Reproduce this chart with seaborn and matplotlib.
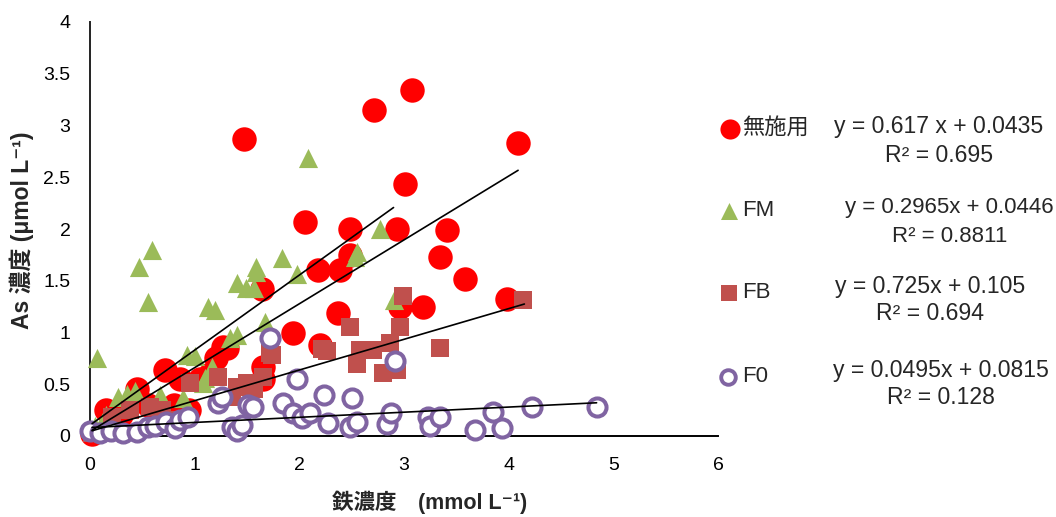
import numpy as np
import pandas as pd
import matplotlib
matplotlib.use("Agg")
import matplotlib.pyplot as plt
import seaborn as sns

# --- measured iron (x, mmol/L) and arsenic (y, umol/L) concentrations ---
none_x = [0.02, 0.15, 0.30, 0.45, 0.55, 0.72, 0.80, 0.86, 0.95, 1.05, 1.15, 1.20,
          1.27, 1.31, 1.47, 1.64, 1.65, 1.65, 1.94, 2.05, 2.18, 2.20, 2.37, 2.39,
          2.48, 2.48, 2.71, 2.93, 2.96, 3.01, 3.08, 3.18, 3.34, 3.41, 3.58, 3.98, 4.09]
none_y = [0.02, 0.25, 0.20, 0.45, 0.30, 0.64, 0.30, 0.55, 0.25, 0.55, 0.60, 0.75,
          0.86, 0.85, 2.87, 1.42, 0.67, 0.55, 1.00, 2.07, 1.60, 0.88, 1.19, 1.60,
          1.75, 2.00, 3.15, 2.00, 1.25, 2.43, 3.34, 1.25, 1.73, 1.99, 1.52, 1.32, 2.83]

fm_x = [0.05, 0.07, 0.15, 0.27, 0.35, 0.43, 0.47, 0.55, 0.59, 0.67, 0.89, 0.93,
        1.00, 1.08, 1.10, 1.13, 1.17, 1.19, 1.34, 1.40, 1.40, 1.49, 1.57, 1.59,
        1.59, 1.67, 1.83, 1.98, 2.08, 2.53, 2.55, 2.77, 2.90]
fm_y = [0.10, 0.75, 0.20, 0.38, 0.41, 0.43, 1.63, 1.29, 1.80, 0.40, 0.37, 0.78,
        0.77, 0.51, 0.56, 1.25, 0.67, 1.22, 0.95, 0.98, 1.48, 1.43, 1.43, 1.63,
        1.58, 1.10, 1.72, 1.57, 2.69, 1.73, 1.78, 2.00, 1.31]

fb_x = [0.02, 0.21, 0.38, 0.57, 0.69, 0.76, 0.96, 1.22, 1.36, 1.40, 1.50, 1.57,
        1.65, 1.72, 1.74, 2.22, 2.26, 2.48, 2.55, 2.58, 2.70, 2.80, 2.87, 2.93,
        2.96, 2.99, 3.34, 4.14]
fb_y = [0.03, 0.18, 0.25, 0.28, 0.25, 0.15, 0.51, 0.57, 0.38, 0.47, 0.51, 0.45,
        0.57, 0.80, 0.78, 0.84, 0.82, 1.05, 0.70, 0.83, 0.83, 0.61, 0.90, 0.64,
        1.05, 1.35, 0.85, 1.31]

f0_x = [0.00, 0.10, 0.20, 0.32, 0.45, 0.55, 0.62, 0.73, 0.81, 0.86, 0.94, 1.22,
        1.26, 1.36, 1.40, 1.45, 1.51, 1.56, 1.72, 1.84, 1.94, 1.98, 2.03, 2.10,
        2.24, 2.27, 2.50, 2.48, 2.55, 2.84, 2.88, 2.91, 3.23, 3.25, 3.34, 3.68,
        3.85, 3.94, 4.22, 4.84]
f0_y = [0.05, 0.03, 0.05, 0.03, 0.04, 0.09, 0.10, 0.14, 0.08, 0.15, 0.18, 0.32,
        0.38, 0.09, 0.05, 0.11, 0.30, 0.28, 0.95, 0.32, 0.22, 0.55, 0.17, 0.22,
        0.40, 0.13, 0.37, 0.09, 0.14, 0.12, 0.22, 0.72, 0.18, 0.10, 0.18, 0.06,
        0.23, 0.08, 0.28, 0.28]

series_names = ["無施用", "FM", "FB", "F0"]

# --- linear trend lines (slope, intercept, fitted x-range end) ---
trend_slope = [0.617, 0.2965, 0.725, 0.0495]
trend_icpt = [0.0435, 0.0446, 0.105, 0.0815]
trend_xend = [4.09, 4.15, 2.90, 4.84]
eq_text = ["y = 0.617 x + 0.0435", "y = 0.2965x + 0.0446",
           "y = 0.725x + 0.105", "y = 0.0495x + 0.0815"]
r2_text = ["R² = 0.695", "R² = 0.8811", "R² = 0.694", "R² = 0.128"]

x_ticks = [0, 1, 2, 3, 4, 5, 6]
y_ticks = [0, 0.5, 1, 1.5, 2, 2.5, 3, 3.5, 4]
y_tick_labels = ["0", "0.5", "1", "1.5", "2", "2.5", "3", "3.5", "4"]

sns.set_style("white")
plt.rcParams["font.family"] = ["Liberation Sans", "Noto Sans CJK JP", "DejaVu Sans"]

RED = "#FF0000"
GREEN = "#9BBB59"
BRICK = "#C0504D"
PURPLE = "#8064A2"

fig = plt.figure(figsize=(10.56, 5.17), dpi=100)
ax = fig.add_axes([90 / 1056, 1 - 436 / 517, (718 - 90) / 1056, (436 - 22) / 517])

df_none = pd.DataFrame({"x": none_x, "y": none_y})
df_fm = pd.DataFrame({"x": fm_x, "y": fm_y})
df_fb = pd.DataFrame({"x": fb_x, "y": fb_y})
df_f0 = pd.DataFrame({"x": f0_x, "y": f0_y})

sns.scatterplot(data=df_none, x="x", y="y", ax=ax, color=RED, marker="o",
                s=310, linewidth=0, clip_on=False, zorder=3)
sns.scatterplot(data=df_fm, x="x", y="y", ax=ax, color=GREEN, marker="^",
                s=190, linewidth=0, clip_on=False, zorder=4)
sns.scatterplot(data=df_fb, x="x", y="y", ax=ax, color=BRICK, marker="s",
                s=150, linewidth=0, clip_on=False, zorder=5)
sns.scatterplot(data=df_f0, x="x", y="y", ax=ax, marker="o", s=170,
                facecolor="white", edgecolor=PURPLE, linewidth=2.9,
                clip_on=False, zorder=6)

for m, b, xe in zip(trend_slope, trend_icpt, trend_xend):
    xs = np.array([0.02, xe])
    sns.lineplot(x=xs, y=m * xs + b, ax=ax, color="black", linewidth=1.2,
                 zorder=7, clip_on=False)

ax.set_xlim(0, 6)
ax.set_ylim(0, 4)
ax.set_xticks(x_ticks)
ax.set_xticklabels([str(t) for t in x_ticks])
ax.set_yticks(y_ticks)
ax.set_yticklabels(y_tick_labels)
ax.tick_params(axis="both", length=0, labelsize=14, colors="black")
ax.tick_params(axis="x", pad=15)
ax.tick_params(axis="y", pad=14)
for side in ("top", "right"):
    ax.spines[side].set_visible(False)
ax.spines["left"].set_color("#222222")
ax.spines["left"].set_linewidth(1.4)
ax.spines["bottom"].set_color("black")
ax.spines["bottom"].set_linewidth(1.4)
ax.set_xlabel("鉄濃度\u3000(mmol L⁻¹)", fontsize=15.5, fontweight="bold")
ax.set_ylabel("As 濃度 (μmol L⁻¹)", fontsize=16.5, fontweight="bold")
ax.xaxis.set_label_coords((430 - 90) / 628, (436 - 502) / 414)
ax.xaxis.label.set_va("center")
ax.yaxis.set_label_coords((22 - 90) / 628, (436 - 230) / 414)
ax.yaxis.label.set_va("center")
ax.grid(False)

# --- legend panel with trend equations ---
lax = fig.add_axes([0, 0, 1, 1])
lax.set_xlim(0, 1056)
lax.set_ylim(517, 0)
lax.axis("off")

leg_x = [730, 729, 729, 728]
leg_y = [129, 211, 293, 377]
leg_styles = [
    dict(marker="o", s=210, color=RED, linewidth=0),
    dict(marker="^", s=150, color=GREEN, linewidth=0),
    dict(marker="s", s=120, color=BRICK, linewidth=0),
    dict(marker="o", s=110, facecolor="white", edgecolor=PURPLE, linewidth=2.8),
]
for name, lx, yy, st in zip(series_names, leg_x, leg_y, leg_styles):
    lax.scatter([lx], [yy], **st)
    lax.text(742, yy, name, fontsize=16, va="center", ha="left")

eq_cx = [939, 949, 930, 941]
eq_y = [127, 208, 287, 370]
r2_cx = [939, 950, 930, 941]
r2_y = [155, 237, 313, 398]
eq_size = [16.6, 16.0, 16.6, 16.6]
for t, cx, yy, fs in zip(eq_text, eq_cx, eq_y, eq_size):
    lax.text(cx, yy, t, fontsize=fs, ha="center", va="center")
for t, cx, yy, fs in zip(r2_text, r2_cx, r2_y, eq_size):
    lax.text(cx, yy, t, fontsize=fs, ha="center", va="center")

fig.savefig("out.png", dpi=100)
